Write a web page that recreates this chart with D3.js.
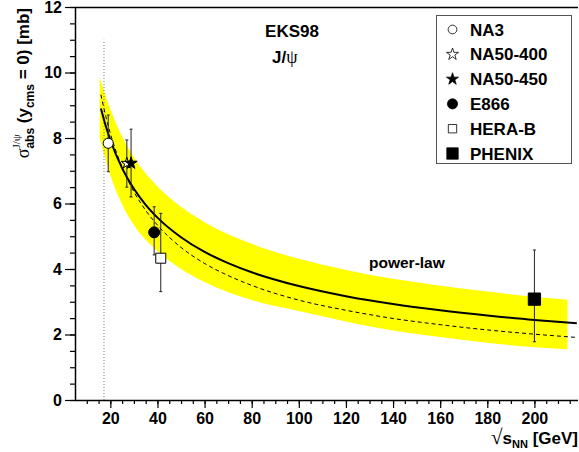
<!DOCTYPE html>
<html lang="en">
<head>
    <meta charset="UTF-8">
    <title>EKS98 J/psi absorption</title>
    <style>
        body{
            margin: 0;
            background: white;
        }
        svg{
            display: block;
        }
        text{
            white-space: pre;
        }
        .tick text{
            font-family: "Liberation Sans", Arial, sans-serif;
            font-weight: bold;
            font-size: 16px;
            fill: black;
        }
        .bold{
            font-family: "Liberation Sans", Arial, sans-serif;
            font-weight: bold;
            fill: black;
        }
        .greek{
            font-family: "Liberation Serif", "DejaVu Serif", serif;
            font-weight: normal;
            fill: black;
        }
    </style>
    <script src="https://d3js.org/d3.v7.min.js"></script>
</head>
<body>
<svg id="figure" width="579" height="452"></svg>
<script>
    // measured points
    let experiments = ['NA3', 'NA50-400', 'NA50-450', 'E866', 'HERA-B', 'PHENIX']
    let sqrtS = [19.1, 27.0, 28.8, 38.6, 41.4, 200]
    let sigma = [7.84, 7.23, 7.23, 5.12, 4.33, 3.08]
    let errLow = [6.97, 6.50, 6.20, 4.43, 3.31, 1.78]
    let errHigh = [8.70, 7.94, 8.27, 5.90, 5.70, 4.58]

    // power-law curves
    let curveX = [16, 18, 20, 25, 30, 35, 40, 50, 60, 70, 80, 100, 120, 140, 160, 180, 200, 218]
    let solidY = [8.90, 8.38, 7.94, 7.08, 6.45, 5.96, 5.57, 4.97, 4.52, 4.18, 3.90, 3.48, 3.17, 2.93, 2.74, 2.58, 2.44, 2.34]
    let dashedY = [9.32, 8.68, 8.14, 7.11, 6.36, 5.79, 5.34, 4.66, 4.17, 3.80, 3.50, 3.05, 2.74, 2.49, 2.30, 2.14, 2.01, 1.91]

    // yellow band
    let bandX = [15.5, 20, 25, 30, 40, 50, 60, 80, 100, 120, 140, 160, 180, 200, 214]
    let bandHigh = [9.85, 8.88, 8.04, 7.41, 6.52, 5.90, 5.43, 4.77, 4.31, 3.97, 3.70, 3.49, 3.31, 3.15, 3.06]
    let bandLow = [8.01, 6.86, 5.97, 5.34, 4.55, 4.00, 3.60, 3.05, 2.72, 2.40, 2.12, 1.92, 1.75, 1.61, 1.55]

    let xMajor = [20, 40, 60, 80, 100, 120, 140, 160, 180, 200]
    let yMajor = [0, 2, 4, 6, 8, 10, 12]
    let sqrtSPS = 17.3

    let svg = d3.select('#figure')
    let xScale = d3.scaleLinear().domain([5, 218.5]).range([75, 578])
    let yScale = d3.scaleLinear().domain([0, 12]).range([400, 7])

    // band
    let bandData = bandX.map(function (d, i){ return {x: d, lo: bandLow[i], hi: bandHigh[i]} })
    svg.append('path')
        .datum(bandData)
        .attr('fill', '#ffff00')
        .attr('d', d3.area()
            .x(function (d){ return xScale(d.x) })
            .y0(function (d){ return yScale(d.lo) })
            .y1(function (d){ return yScale(d.hi) })
            .curve(d3.curveMonotoneX))

    // dotted line at SPS energy
    svg.append('line')
        .attr('x1', xScale(sqrtSPS)).attr('x2', xScale(sqrtSPS))
        .attr('y1', yScale(0)).attr('y2', yScale(11))
        .attr('stroke', '#777').attr('stroke-width', 1)
        .attr('stroke-dasharray', '1,2')

    let line = d3.line()
        .x(function (d){ return xScale(d.x) })
        .y(function (d){ return yScale(d.y) })
        .curve(d3.curveMonotoneX)

    svg.append('path')
        .datum(curveX.map(function (d, i){ return {x: d, y: dashedY[i]} }))
        .attr('fill', 'none').attr('stroke', 'black').attr('stroke-width', 1)
        .attr('stroke-dasharray', '4,3')
        .attr('d', line)

    svg.append('path')
        .datum(curveX.map(function (d, i){ return {x: d, y: solidY[i]} }))
        .attr('fill', 'none').attr('stroke', 'black').attr('stroke-width', 2)
        .attr('d', line)

    // axes
    let xMinor = d3.axisBottom(xScale).tickValues(d3.range(10, 219, 5)).tickSize(4).tickFormat('')
    let xMain = d3.axisBottom(xScale).tickValues(xMajor).tickSize(8).tickPadding(5)
    let yMinor = d3.axisLeft(yScale).tickValues(d3.range(0, 12.1, 0.5)).tickSize(5).tickFormat('')
    let yMain = d3.axisLeft(yScale).tickValues(yMajor).tickSize(10).tickPadding(3)

    svg.append('g').attr('transform', `translate(0,${400})`).call(xMinor)
    svg.append('g').attr('transform', `translate(0,${400})`).call(xMain)
    svg.append('g').attr('transform', `translate(${75},0)`).call(yMinor)
    svg.append('g').attr('transform', `translate(${75},0)`).call(yMain)
    svg.selectAll('.domain').remove()
    svg.selectAll('.tick line').attr('stroke', 'black').attr('stroke-width', 1.2)

    // frame
    svg.append('path')
        .attr('d', `M578,${7.5}H${75.5}V${400.5}H578`)
        .attr('fill', 'none').attr('stroke', 'black').attr('stroke-width', 1.5)

    // markers
    let symbols = [
        {type: d3.symbolCircle, size: 80, fill: 'white'},
        {type: d3.symbolStar, size: 40, fill: 'white'},
        {type: d3.symbolStar, size: 47, fill: 'black'},
        {type: d3.symbolCircle, size: 95, fill: 'black'},
        {type: d3.symbolSquare, size: 100, fill: 'white'},
        {type: d3.symbolSquare, size: 150, fill: 'black'}
    ]

    experiments.forEach(function (name, i){
        let cx = xScale(sqrtS[i])
        let g = svg.append('g')
        g.append('line')
            .attr('x1', cx).attr('x2', cx)
            .attr('y1', yScale(errLow[i])).attr('y2', yScale(errHigh[i]))
            .attr('stroke', '#222').attr('stroke-width', 1)
        ;[errLow[i], errHigh[i]].forEach(function (v){
            g.append('line')
                .attr('x1', cx - 1.5).attr('x2', cx + 1.5)
                .attr('y1', yScale(v)).attr('y2', yScale(v))
                .attr('stroke', '#222').attr('stroke-width', 1)
        })
        g.append('path')
            .attr('transform', `translate(${cx},${yScale(sigma[i])})`)
            .attr('d', d3.symbol().type(symbols[i].type).size(symbols[i].size)())
            .attr('fill', symbols[i].fill)
            .attr('stroke', 'black').attr('stroke-width', 1)
    })

    // legend
    svg.append('rect')
        .attr('x', 436.5).attr('y', 15.5).attr('width', 135).attr('height', 148)
        .attr('fill', 'white').attr('stroke', '#555').attr('stroke-width', 1)

    let legendSizes = [60, 45, 45, 80, 70, 130]
    experiments.forEach(function (name, i){
        let ly = 29.5 + i * 24.8
        svg.append('path')
            .attr('transform', `translate(${452.5},${ly})`)
            .attr('d', d3.symbol().type(symbols[i].type).size(legendSizes[i])())
            .attr('fill', symbols[i].fill)
            .attr('stroke', 'black').attr('stroke-width', 0.8)
        svg.append('text').attr('class', 'bold')
            .attr('x', 470).attr('y', ly + 6)
            .attr('font-size', '17px')
            .text(name)
    })

    // titles inside the frame
    svg.append('text').attr('class', 'bold')
        .attr('x', 292).attr('y', 37)
        .attr('text-anchor', 'middle').attr('font-size', '17px')
        .text('EKS98')
    let jpsi = svg.append('text').attr('x', 272).attr('y', 63).attr('font-size', '17px')
    jpsi.append('tspan').attr('class', 'bold').text('J/')
    jpsi.append('tspan').attr('class', 'greek').attr('font-size', '18px').text('ψ')

    svg.append('text').attr('class', 'bold')
        .attr('x', 369).attr('y', 268).attr('font-size', '15.5px')
        .text('power-law')

    // builds a label from pieces, placed one after another along a line
    function pieceLabel(parent, pieces){
        let cursor = 0
        let stackStart = 0
        pieces.forEach(function (p){
            let start = p.stack ? stackStart : cursor
            let t = parent.append('text')
                .attr('class', p.cls)
                .attr('xml:space', 'preserve')
                .attr('x', start).attr('y', p.dy || 0)
                .attr('font-size', p.size + 'px')
                .text(p.t)
            let w = t.node().getComputedTextLength()
            if (!p.stack) stackStart = start
            cursor = Math.max(cursor, start + w)
        })
        return cursor
    }

    // y title
    let yTitle = svg.append('g')
    let yInner = yTitle.append('g')
    let yLen = pieceLabel(yInner, [
        {t: 'σ', cls: 'greek', size: 18},
        {t: 'J/ψ', cls: 'greek', size: 11, dy: -9},
        {t: 'abs', cls: 'bold', size: 12, dy: 5, stack: true},
        {t: ' (y', cls: 'bold', size: 17},
        {t: 'cms', cls: 'bold', size: 12, dy: 5},
        {t: ' = 0) [mb]', cls: 'bold', size: 17}
    ])
    yTitle.attr('transform', `translate(${29},${8 + yLen}) rotate(-90)`)

    // x title
    let xTitle = svg.append('g')
    let xInner = xTitle.append('g')
    let xLen = pieceLabel(xInner, [
        {t: '√', cls: 'greek', size: 21},
        {t: 's', cls: 'bold', size: 17},
        {t: 'NN', cls: 'bold', size: 11, dy: 4},
        {t: ' [GeV]', cls: 'bold', size: 17}
    ])
    xTitle.attr('transform', `translate(${578 - xLen},${444})`)
</script>
</body>
</html>
